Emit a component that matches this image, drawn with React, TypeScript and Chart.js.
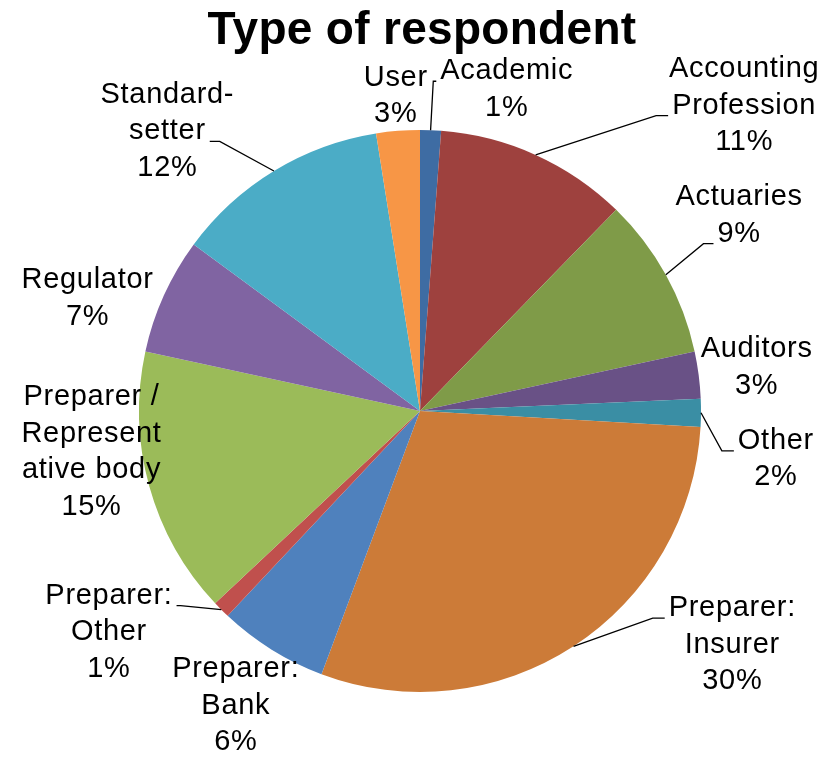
import { useEffect, useRef } from "react";
import { Chart, registerables } from "chart.js";

Chart.register(...registerables);

const chartTitle = "Type of respondent";

const categories = [
  "Academic",
  "Accounting Profession",
  "Actuaries",
  "Auditors",
  "Other",
  "Preparer: Insurer",
  "Preparer: Bank",
  "Preparer: Other",
  "Preparer / Representative body",
  "Regulator",
  "Standard-setter",
  "User",
];

// how each category name is wrapped in its label
const labelLines = [
  ["Academic"],
  ["Accounting", "Profession"],
  ["Actuaries"],
  ["Auditors"],
  ["Other"],
  ["Preparer:", "Insurer"],
  ["Preparer:", "Bank"],
  ["Preparer:", "Other"],
  ["Preparer /", "Represent", "ative body"],
  ["Regulator"],
  ["Standard-", "setter"],
  ["User"],
];

// share of respondents (%)
const shares = [1.2, 11.1, 9.3, 2.7, 1.6, 29.8, 6.3, 1.0, 15.4, 6.7, 12.4, 2.5];

const sliceColors = [
  "#3E6CA3",
  "#9E413E",
  "#7F9B48",
  "#695186",
  "#3A8EA4",
  "#CC7B38",
  "#4F81BD",
  "#C0504D",
  "#9BBB59",
  "#8064A2",
  "#4BACC6",
  "#F79646",
];

// label centre: [distance as multiple of radius, angle in degrees clockwise from top]
const labelPlacement: [number, number][] = [
  [1.185, 15.1],
  [1.585, 46.7],
  [1.332, 58.5],
  [1.208, 82.6],
  [1.278, 97.7],
  [1.388, 126.8],
  [1.237, 212.0],
  [1.358, 234.6],
  [1.178, 262.9],
  [1.249, 288.7],
  [1.341, 317.9],
  [1.124, 355.6],
];

// leader lines: text row they attach to, side of the text, length of the horizontal piece
type Leader = { row: number; side: "left" | "right"; elbow: number } | null;
const leaders: Leader[] = [
  { row: 0, side: "left", elbow: 3 },
  { row: 1, side: "left", elbow: 12 },
  { row: 1, side: "left", elbow: 10 },
  null,
  { row: 0, side: "left", elbow: 12 },
  { row: 0, side: "left", elbow: 12 },
  null,
  { row: 0, side: "right", elbow: 4 },
  null,
  null,
  { row: 1, side: "right", elbow: 10 },
  null,
];

const FONT_FAMILY = '"Liberation Sans", Arial, Helvetica, sans-serif';
const LABEL_SIZE = 29;
const LINE_H = 36.5;
const GAP = 4;

const percentOf = (v: number, total: number) => `${Math.round((v / total) * 100)}%`;

const titlePlugin = {
  id: "chartTitleText",
  afterDraw(chart: any) {
    const ctx = chart.ctx as CanvasRenderingContext2D;
    ctx.save();
    (ctx as any).letterSpacing = "0.3px";
    ctx.font = `bold 46px ${FONT_FAMILY}`;
    ctx.fillStyle = "#000";
    ctx.textAlign = "center";
    ctx.textBaseline = "alphabetic";
    const meta = chart.getDatasetMeta(0);
    const cx = meta.data.length ? meta.data[0].x : chart.width / 2;
    ctx.fillText(chartTitle, cx + 2, 44);
    ctx.restore();
  },
};

const labelPlugin = {
  id: "outsideLabels",
  afterDatasetsDraw(chart: any) {
    const ctx = chart.ctx as CanvasRenderingContext2D;
    const meta = chart.getDatasetMeta(0);
    const data = chart.data.datasets[0].data as number[];
    const total = data.reduce((a, b) => a + b, 0);
    ctx.save();
    (ctx as any).letterSpacing = "0.7px";
    ctx.font = `${LABEL_SIZE}px ${FONT_FAMILY}`;
    ctx.fillStyle = "#000";
    ctx.strokeStyle = "#000";
    ctx.lineWidth = 1.3;
    ctx.textAlign = "center";
    ctx.textBaseline = "middle";
    meta.data.forEach((arc: any, i: number) => {
      const { x, y, startAngle, endAngle, outerRadius } = arc.getProps(
        ["x", "y", "startAngle", "endAngle", "outerRadius"],
        true
      );
      const [rf, deg] = labelPlacement[i];
      const a = (deg * Math.PI) / 180 - Math.PI / 2;
      const cx = x + Math.cos(a) * outerRadius * rf;
      const cy = y + Math.sin(a) * outerRadius * rf;
      const lines = [...labelLines[i], percentOf(data[i], total)];
      const top = cy - ((lines.length - 1) * LINE_H) / 2;
      lines.forEach((t, k) => ctx.fillText(t, cx, top + k * LINE_H));
      const ld = leaders[i];
      if (ld) {
        const mid = (startAngle + endAngle) / 2;
        const px = x + Math.cos(mid) * outerRadius;
        const py = y + Math.sin(mid) * outerRadius;
        const w = ctx.measureText(lines[ld.row]).width;
        const dir = ld.side === "left" ? -1 : 1;
        const ex = cx + dir * (w / 2 + GAP);
        const ey = top + ld.row * LINE_H + 10;
        const kx = ex + dir * ld.elbow;
        ctx.beginPath();
        ctx.moveTo(px, py);
        ctx.lineTo(kx, ey);
        ctx.lineTo(ex, ey);
        ctx.stroke();
      }
    });
    ctx.restore();
  },
};

export default function App() {
  const canvasRef = useRef<HTMLCanvasElement | null>(null);

  useEffect(() => {
    document.body.style.margin = "0";
    const canvas = canvasRef.current;
    if (!canvas) return;
    const chart = new Chart(canvas, {
      type: "pie",
      data: {
        labels: categories,
        datasets: [
          {
            data: shares,
            backgroundColor: sliceColors,
            borderWidth: 0,
            hoverOffset: 0,
          },
        ],
      },
      options: {
        animation: false,
        responsive: true,
        maintainAspectRatio: false,
        layout: { padding: { top: 130, bottom: 66, left: 139, right: 130 } },
        plugins: {
          legend: { display: false },
          title: { display: false },
          tooltip: { enabled: false },
        },
      },
      plugins: [labelPlugin, titlePlugin],
    });
    return () => chart.destroy();
  }, []);

  return (
    <div style={{ position: "relative", width: 831, height: 758, background: "#fff" }}>
      <canvas ref={canvasRef} />
    </div>
  );
}
